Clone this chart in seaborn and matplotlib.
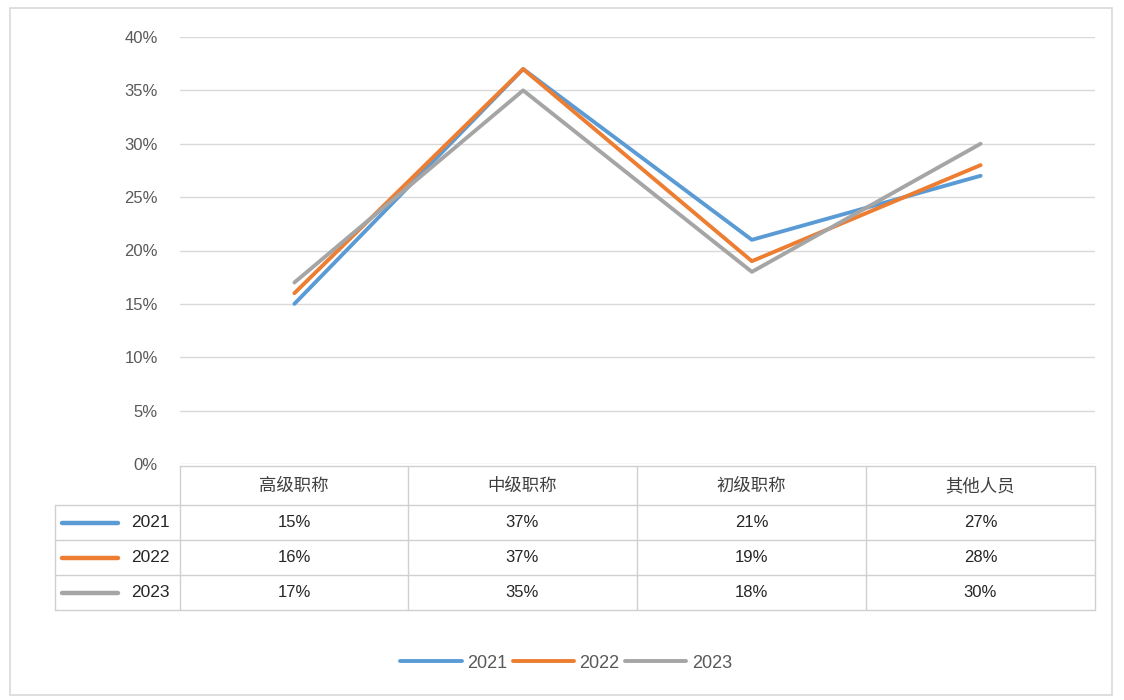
import pandas as pd
import numpy as np
import matplotlib
matplotlib.use("Agg")
import matplotlib.pyplot as plt
import seaborn as sns
from matplotlib.lines import Line2D
from matplotlib.patches import Rectangle

categories = ["高级职称", "中级职称", "初级职称", "其他人员"]
years = ["2021", "2022", "2023"]
v2021 = [15, 37, 21, 27]
v2022 = [16, 37, 19, 28]
v2023 = [17, 35, 18, 30]
colors = ["#5B9BD5", "#ED7D31", "#A5A5A5"]

sns.set_theme(style="white")
plt.rcParams["font.family"] = ["Liberation Sans", "Noto Sans CJK SC", "DejaVu Sans"]

df = pd.DataFrame({
    "cat": categories * 3,
    "val": v2021 + v2022 + v2023,
    "year": [y for y in years for _ in categories],
})

W, H = 1124, 700
fig = plt.figure(figsize=(W / 100, H / 100), dpi=100)

def fx(px):
    return px / W

def fy(py):
    return 1 - py / H

# outer frame
fig.add_artist(Rectangle((fx(10), fy(695)), fx(1102), 687 / H, transform=fig.transFigure,
                         fill=False, edgecolor="#D9D9D9", linewidth=1.2))

left, right, top, bottom = 180, 1095, 37, 464
ax = fig.add_axes([fx(left), fy(bottom), fx(right - left), (bottom - top) / H])
sns.lineplot(data=df, x="cat", y="val", hue="year", palette=colors, sort=False,
             linewidth=2.8, ax=ax)
ax.set_xlim(-0.5, 3.5)
ax.set_ylim(0, 40)
ax.set_yticks(range(0, 41, 5))
ax.set_yticklabels([f"{t}%" for t in range(0, 41, 5)], color="#595959", fontsize=12)
ax.tick_params(axis="y", length=0, pad=16)
ax.set_xticks([])
ax.set_xlabel("")
ax.set_ylabel("")
ax.grid(axis="y", color="#D9D9D9", linewidth=1)
for s in ax.spines.values():
    s.set_visible(False)

handles, labels = ax.get_legend_handles_labels()
ax.get_legend().remove()

# data table
grid_c = "#D0D0D0"
col_x = [180, 408, 637, 866, 1095]
row_y = [466, 505, 540, 575, 610]
fig.add_artist(Line2D([fx(180), fx(1095)], [fy(466)] * 2, transform=fig.transFigure, color=grid_c, lw=1))
for yy in row_y[1:]:
    fig.add_artist(Line2D([fx(55), fx(1095)], [fy(yy)] * 2, transform=fig.transFigure, color=grid_c, lw=1))
fig.add_artist(Line2D([fx(55)] * 2, [fy(505), fy(610)], transform=fig.transFigure, color=grid_c, lw=1))
for xx in col_x:
    fig.add_artist(Line2D([fx(xx)] * 2, [fy(466), fy(610)], transform=fig.transFigure, color=grid_c, lw=1))

for i, c in enumerate(categories):
    cx = (col_x[i] + col_x[i + 1]) / 2
    fig.text(fx(cx), fy(486), c, ha="center", va="center", fontsize=12.5, color="#404040",
             family=["Noto Sans CJK SC", "DejaVu Sans"])

series = [v2021, v2022, v2023]
for r, (yr, vals, col) in enumerate(zip(years, series, colors)):
    cy = (row_y[r + 1] + row_y[r + 2]) / 2
    fig.add_artist(Line2D([fx(62), fx(118)], [fy(cy)] * 2, transform=fig.transFigure, color=col,
                          lw=3.2, solid_capstyle="round"))
    fig.text(fx(150), fy(cy), yr, ha="center", va="center", fontsize=12.5, color="#262626")
    for i, v in enumerate(vals):
        cx = (col_x[i] + col_x[i + 1]) / 2
        fig.text(fx(cx), fy(cy), f"{v}%", ha="center", va="center", fontsize=12, color="#262626")

leg = fig.legend(handles, labels, loc="center", bbox_to_anchor=(fx(566), fy(663)), ncol=3,
                 frameon=False, fontsize=13, handlelength=3.4, handletextpad=0.3,
                 columnspacing=0.3)
for t in leg.get_texts():
    t.set_color("#595959")

fig.savefig("out.png", dpi=100)
